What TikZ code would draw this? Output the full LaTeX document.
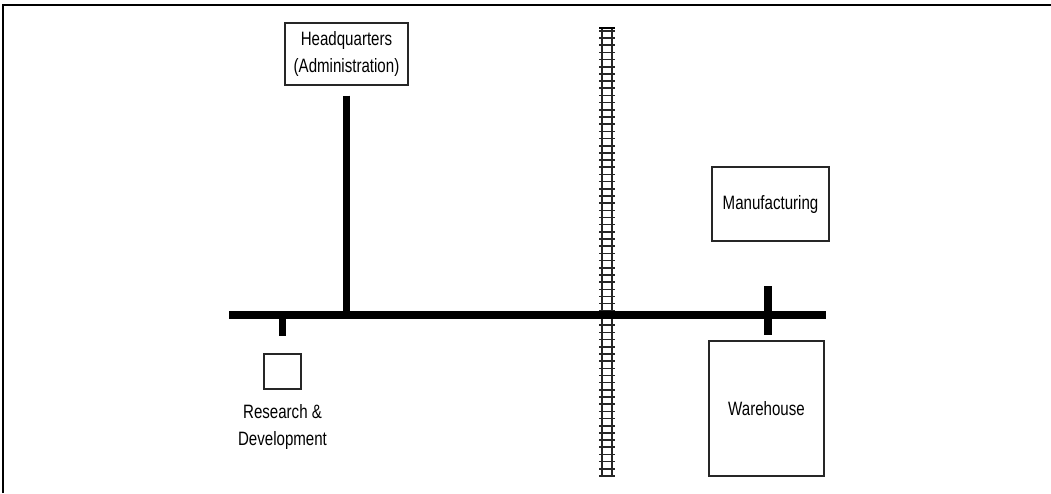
\documentclass[tikz,border=0pt]{standalone}
\usepackage{fontspec}
\setmainfont{Liberation Sans}[FakeStretch=0.78]
\usetikzlibrary{positioning}

\begin{document}
\begin{tikzpicture}[
	building/.style={draw=black!85, line width=0.85pt, align=center, inner sep=0pt, font=\fontsize{11}{15.4}\selectfont},
	buildingtext/.style={align=center, inner sep=0pt, font=\fontsize{11}{15.4}\selectfont},
	road/.style={line width=4.4pt},
	rail/.style={line width=0.9pt, black!85}]
	\useasboundingbox (0,0) rectangle (21.02,9.86);
	\draw[line width=1.1pt](0.06,0) -- (0.06,9.76) -- (21.02,9.76);
	% Gebaeude
	\node[building, minimum width=2.46cm, minimum height=1.24cm] (hq) at (6.93,8.78) {Headquarters\\(Administration)};
	\node[building, minimum width=0.74cm, minimum height=0.70cm] (rd) at (5.65,2.43) {};
	\node[buildingtext, below=0.28cm of rd] (rdtext) {Research \&\\Development};
	\node[building, minimum width=2.34cm, minimum height=1.48cm] (mf) at (15.41,5.78) {Manufacturing};
	\node[building, minimum width=2.30cm, minimum height=2.70cm] (wh) at (15.33,1.69) {Warehouse};
	% Bahnlinie
	\draw[rail](12.04,0.32) -- (12.04,9.30);
	\draw[rail](12.24,0.32) -- (12.24,9.30);
	\foreach \y in {0,...,62}
		\draw[rail](11.98,0.34+\y*0.1436) -- (12.30,0.34+\y*0.1436);
	\draw[line width=1.4pt](11.98,9.30) -- (12.30,9.30);
	% Strasse
	\coordinate (w) at (4.58,3.56);
	\coordinate (e) at (16.52,3.56);
	\coordinate (whtop) at (15.36,4.14);
	\coordinate (whend) at (15.36,3.16);
	\draw[road](w) -- (e);
	\draw[road, line width=3.6pt]([yshift=-0.2cm]hq.south) -- (hq.south |- w);
	\draw[road](rd.north |- w) -- ([yshift=0.34cm]rd.north);
	\draw[road](whtop) -- (whend);
\end{tikzpicture}
\end{document}
